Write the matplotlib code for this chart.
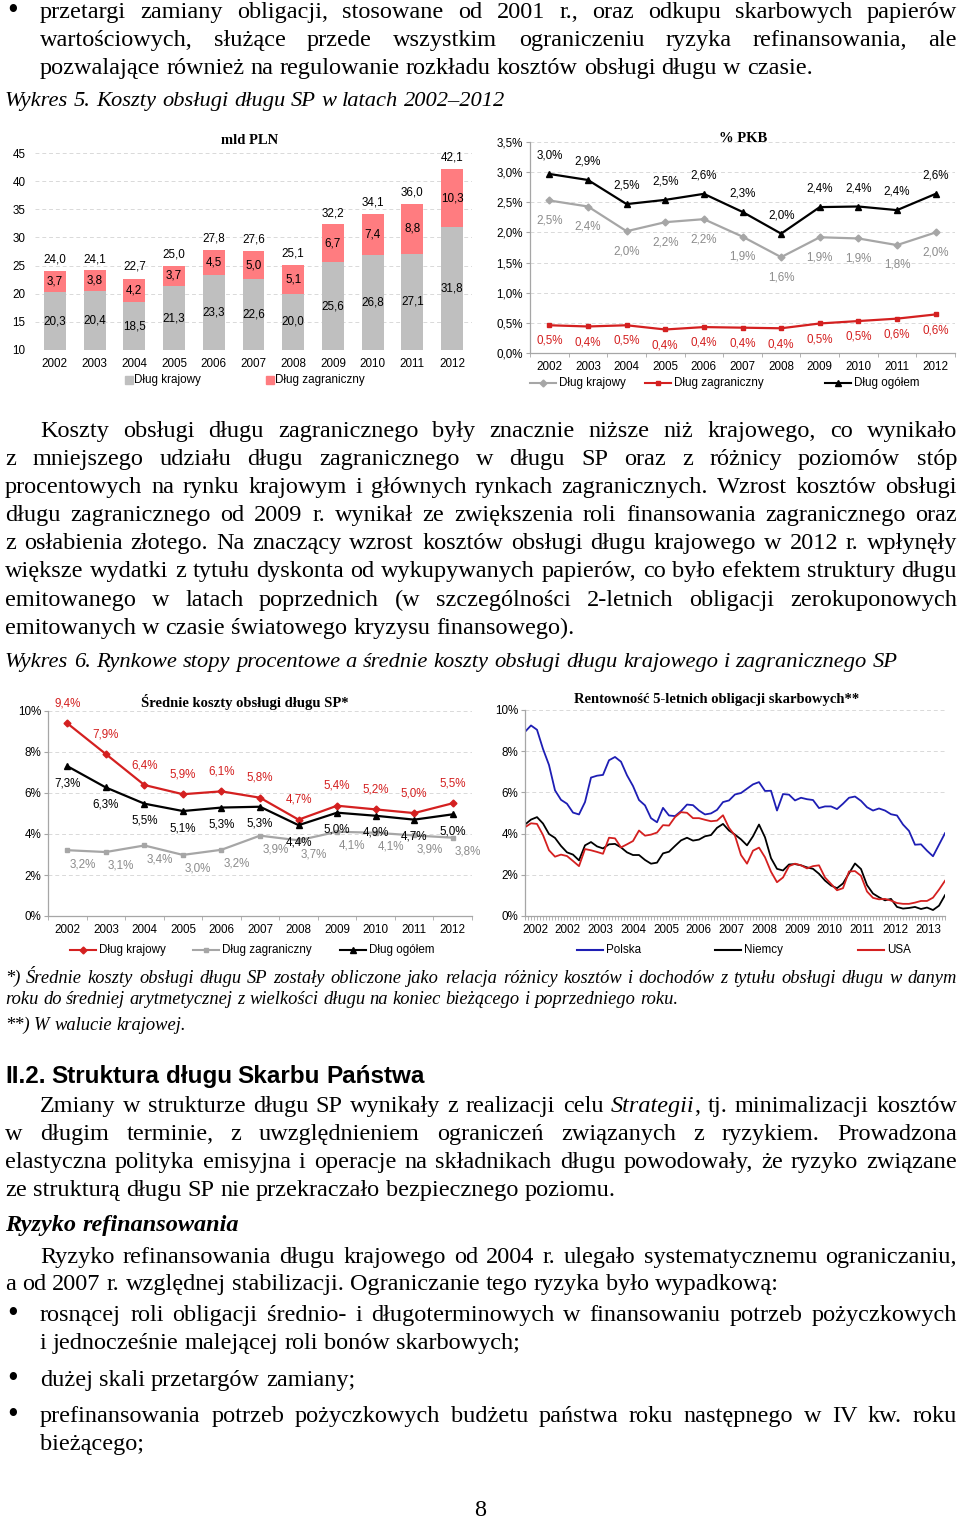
import numpy as np
import matplotlib
matplotlib.use('Agg')
import matplotlib.pyplot as plt
from matplotlib.lines import Line2D
from matplotlib.ticker import FuncFormatter

plt.rcParams['font.family'] = ['Liberation Sans', 'DejaVu Sans']
SERIF = ['Liberation Serif', 'DejaVu Serif']
SANS = ['Liberation Sans', 'DejaVu Sans']

W, H = 960, 1520
fig = plt.figure(figsize=(W / 100, H / 100), dpi=100)
renderer = fig.canvas.get_renderer()

# ---------------- data ----------------
years = ['2002', '2003', '2004', '2005', '2006', '2007', '2008', '2009', '2010', '2011', '2012']

# Wykres 5, mld PLN
cost_dom = [20.3, 20.4, 18.5, 21.3, 23.3, 22.6, 20.0, 25.6, 26.8, 27.1, 31.8]
cost_for = [3.7, 3.8, 4.2, 3.7, 4.5, 5.0, 5.1, 6.7, 7.4, 8.8, 10.3]
cost_tot = [24.0, 24.1, 22.7, 25.0, 27.8, 27.6, 25.1, 32.2, 34.1, 36.0, 42.1]

# Wykres 5, % PKB
gdp_dom = [2.53, 2.43, 2.02, 2.17, 2.22, 1.93, 1.59, 1.92, 1.90, 1.79, 2.00]
gdp_for = [0.46, 0.44, 0.46, 0.39, 0.43, 0.42, 0.41, 0.49, 0.53, 0.57, 0.64]
gdp_tot = [2.97, 2.87, 2.47, 2.54, 2.64, 2.34, 1.98, 2.42, 2.43, 2.37, 2.64]

# Wykres 6, srednie koszty obslugi (%)
avg_dom = [9.40, 7.90, 6.39, 5.94, 6.08, 5.77, 4.70, 5.38, 5.20, 5.02, 5.50]
avg_for = [3.21, 3.12, 3.44, 2.98, 3.23, 3.92, 3.69, 4.11, 4.06, 3.93, 3.82]
avg_tot = [7.31, 6.27, 5.48, 5.12, 5.29, 5.33, 4.43, 5.04, 4.89, 4.70, 4.96]

# Wykres 6, rentownosc 5-letnich obligacji (%), odczyt co 2 miesiace
yield_labels = ['2002', '2002', '2003', '2004', '2005', '2006', '2007',
                '2008', '2009', '2010', '2011', '2012', '2013']
yield_pl = [8.94, 9.25, 9.04, 8.11, 7.33, 6.10, 5.64, 5.45, 5.02, 4.93,
            5.53, 6.72, 6.81, 6.85, 7.56, 7.72, 7.49, 6.83, 6.31, 5.63,
            5.37, 4.75, 4.55, 5.25, 4.88, 4.85, 5.09, 5.41, 5.38, 5.12,
            4.93, 4.98, 5.15, 5.53, 5.61, 5.90,
            5.97, 6.18, 6.39, 6.50, 6.07, 6.08, 5.12, 5.92, 5.89, 5.61,
            5.74, 5.67, 5.63, 5.24, 5.32, 5.32, 5.19, 5.45, 5.74, 5.80,
            5.59, 5.28, 5.12, 5.22, 5.12, 4.94, 4.88, 4.44, 4.13, 3.46,
            3.48, 3.17, 2.90, 3.46, 4.02]
yield_de = [4.44, 4.68, 4.80, 4.49, 3.98, 3.79, 3.40, 3.09, 2.98, 2.70,
            3.43, 3.59, 3.38, 3.28, 3.48, 3.50, 3.33, 3.09, 2.96, 2.96,
            2.72, 2.54, 2.59, 3.04, 3.12, 3.40, 3.67, 3.80, 3.66, 3.71,
            3.87, 3.93, 4.28, 4.47, 4.15, 3.95,
            3.72, 3.43, 3.87, 4.44, 3.82, 2.81, 2.29, 2.21, 2.50, 2.52,
            2.46, 2.36, 2.29, 2.05, 1.72, 1.48, 1.35, 1.58, 2.07, 2.55,
            2.28, 1.50, 1.09, 0.91, 0.76, 0.83, 0.44, 0.36, 0.39, 0.44,
            0.34, 0.41, 0.29, 0.50, 1.01]
yield_us = [4.31, 4.50, 4.47, 3.93, 3.19, 2.88, 2.98, 2.91, 2.67, 2.42,
            3.25, 3.19, 3.11, 3.02, 3.80, 3.77, 3.33, 3.48, 3.64, 4.15,
            3.90, 3.95, 4.05, 4.41, 4.39, 4.80, 5.04, 5.01, 4.75, 4.75,
            4.67, 4.60, 4.63, 4.89, 4.28, 3.90,
            2.96, 2.54, 3.17, 3.32, 2.85, 2.15, 1.64, 1.87, 2.42, 2.54,
            2.46, 2.31, 2.42, 2.46, 1.87, 1.56, 1.25, 1.35, 2.16, 2.18,
            1.95, 1.19, 0.88, 0.81, 0.83, 0.75, 0.63, 0.59, 0.59, 0.65,
            0.73, 0.73, 0.89, 1.28, 1.71]
months = np.arange(0, 2 * len(yield_pl), 2)

GRAY = '#BFBFBF'
SALMON = '#FF7C80'
RED = '#D42020'
LGRAY = '#A6A6A6'
BLUE = '#1E1EB4'
AXC = '#A6A6A6'

BODY = 17.5     # body text size
ITAL = 16.2     # italic captions


def fx(x):
    return x / W


def fy(y):
    return 1 - y / H


def px_axes(x0, y0, x1, y1):
    return fig.add_axes([fx(x0), fy(y1), (x1 - x0) / W, (y1 - y0) / H])


def comma(v, dec=1, pct=False):
    s = f"{v:.{dec}f}".replace('.', ',')
    return s + '%' if pct else s


# ---------------- page text ----------------
# '§' toggles italic inside a line
def parse(line, base_style):
    words, ital = [], False
    for w in line.split(' '):
        runs = []
        for i, p in enumerate(w.split('§')):
            if i > 0:
                ital = not ital
            if p:
                runs.append((p, 'italic' if ital else base_style))
        words.append(runs)
    return words


def text_line(y, line, x0=5, x1=957, justify=True, size=BODY, style='normal',
              weight='normal', family=SERIF):
    words = parse(line, style)
    while True:
        arts, widths = [], []
        for runs in words:
            wa = []
            for t, st in runs:
                a = fig.text(0, 0, t, fontsize=size, fontstyle=st, fontweight=weight,
                             family=family, va='baseline', ha='left')
                wa.append((a, a.get_window_extent(renderer).width))
            arts.append(wa)
            widths.append(sum(w for _, w in wa))
        space = 0.25 * size * 100 / 72
        if not justify or len(words) < 2:
            gap = space
            break
        gap = (x1 - x0 - sum(widths)) / (len(words) - 1)
        if gap > 0.6 * space:
            break
        for wa in arts:
            for a, _ in wa:
                a.remove()
        size -= 0.25
    x = x0
    for wa, w in zip(arts, widths):
        xx = x
        for a, ww in wa:
            a.set_position((fx(xx), fy(y + 6)))
            xx += ww
        x += w + gap


def bullet(y):
    fig.text(fx(7), fy(y + 7), '•', fontsize=22, family=SERIF, va='baseline', ha='left')


bullet(12)
text_line(12, 'przetargi zamiany obligacji, stosowane od 2001 r., oraz odkupu skarbowych papierów', x0=40)
text_line(40, 'wartościowych, służące przede wszystkim ograniczeniu ryzyka refinansowania, ale', x0=40)
text_line(68, 'pozwalające również na regulowanie rozkładu kosztów obsługi długu w czasie.', x0=40, justify=False)
text_line(100, 'Wykres 5. Koszty obsługi długu SP w latach 2002–2012', justify=False, style='italic', size=ITAL)

para1 = [
    ('Koszty obsługi długu zagranicznego były znacznie niższe niż krajowego, co wynikało', 40, True),
    ('z mniejszego udziału długu zagranicznego w długu SP oraz z różnicy poziomów stóp', 5, True),
    ('procentowych na rynku krajowym i głównych rynkach zagranicznych. Wzrost kosztów obsługi', 5, True),
    ('długu zagranicznego od 2009 r. wynikał ze zwiększenia roli finansowania zagranicznego oraz', 5, True),
    ('z osłabienia złotego. Na znaczący wzrost kosztów obsługi długu krajowego w 2012 r. wpłynęły', 5, True),
    ('większe wydatki z tytułu dyskonta od wykupywanych papierów, co było efektem struktury długu', 5, True),
    ('emitowanego w latach poprzednich (w szczególności 2-letnich obligacji zerokuponowych', 5, True),
    ('emitowanych w czasie światowego kryzysu finansowego).', 5, False),
]
for i, (ln, x0, j) in enumerate(para1):
    text_line(431 + 28.1 * i, ln, x0=x0, justify=j)
text_line(661, 'Wykres 6. Rynkowe stopy procentowe a średnie koszty obsługi długu krajowego i zagranicznego SP',
          justify=False, style='italic', size=ITAL)

text_line(977, '*) Średnie koszty obsługi długu SP zostały obliczone jako relacja różnicy kosztów i dochodów '
               'z tytułu obsługi długu w danym', size=13.3, style='italic')
text_line(998, 'roku do średniej arytmetycznej z wielkości długu na koniec bieżącego i poprzedniego roku.',
          size=13.3, style='italic', justify=False)
text_line(1024, '**) W walucie krajowej.', size=13.3, style='italic', justify=False)

text_line(1077, 'II.2. Struktura długu Skarbu Państwa', justify=False, size=17.5, weight='bold',
          family=SANS)
text_line(1106, 'Zmiany w strukturze długu SP wynikały z realizacji celu §Strategii§, tj. minimalizacji kosztów', x0=40)
text_line(1134, 'w długim terminie, z uwzględnieniem ograniczeń związanych z ryzykiem. Prowadzona')
text_line(1162, 'elastyczna polityka emisyjna i operacje na składnikach długu powodowały, że ryzyko związane')
text_line(1190, 'ze strukturą długu SP nie przekraczało bezpiecznego poziomu.', justify=False)
text_line(1225, 'Ryzyko refinansowania', justify=False, style='italic', weight='bold')
text_line(1257, 'Ryzyko refinansowania długu krajowego od 2004 r. ulegało systematycznemu ograniczaniu,', x0=40)
text_line(1284, 'a od 2007 r. względnej stabilizacji. Ograniczanie tego ryzyka było wypadkową:', justify=False)
bullet(1315)
text_line(1315, 'rosnącej roli obligacji średnio- i długoterminowych w finansowaniu potrzeb pożyczkowych', x0=40)
text_line(1343, 'i jednocześnie malejącej roli bonów skarbowych;', x0=40, justify=False)
bullet(1380)
text_line(1380, 'dużej skali przetargów zamiany;', x0=40, justify=False)
bullet(1416)
text_line(1416, 'prefinansowania potrzeb pożyczkowych budżetu państwa roku następnego w IV kw. roku', x0=40)
text_line(1444, 'bieżącego;', x0=40, justify=False)
fig.text(fx(480), fy(1516), '8', fontsize=BODY, family=SERIF, ha='center', va='baseline')


# ---------------- chart helpers ----------------
TICK = 8.4


def legend_item(x0, y, color, label, marker=None, square=False, ms=4.5):
    if square:
        fig.add_artist(Line2D([fx(x0 + 4)], [fy(y)], transform=fig.transFigure, marker='s',
                              ms=6, color=color, ls='none'))
        tx = x0 + 9
    else:
        fig.add_artist(Line2D([fx(x0), fx(x0 + 26)], [fy(y), fy(y)], transform=fig.transFigure,
                              color=color, lw=1.5))
        if marker:
            fig.add_artist(Line2D([fx(x0 + 13)], [fy(y)], transform=fig.transFigure, marker=marker,
                                  ms=ms, color=color, ls='none'))
        tx = x0 + 29
    fig.text(fx(tx), fy(y), label, fontsize=TICK, va='center', ha='left')


def base_style(ax, ylim, yticks, fmt):
    ax.set_ylim(*ylim)
    ax.set_yticks(yticks)
    ax.yaxis.set_major_formatter(FuncFormatter(fmt))
    ax.grid(axis='y', ls=(0, (4, 3)), color='#D9D9D9', lw=0.7)
    ax.set_axisbelow(True)
    for s in ['top', 'right']:
        ax.spines[s].set_visible(False)
    for s in ['left', 'bottom']:
        ax.spines[s].set_color(AXC)
        ax.spines[s].set_linewidth(0.9)
    ax.tick_params(labelsize=TICK, color=AXC, width=0.8)
    ax.tick_params(axis='y', length=3, pad=2)


def category_x(ax):
    ax.set_xlim(-0.5, len(years) - 0.5)
    ax.set_xticks(range(len(years)))
    ax.set_xticklabels(years)
    ax.set_xticks(np.arange(-0.5, len(years), 1), minor=True)
    ax.tick_params(axis='x', which='major', length=0, pad=6)
    ax.tick_params(axis='x', which='minor', length=3, color=AXC)


# ---------------- Wykres 5: mld PLN ----------------
ax1 = px_axes(35, 153, 472, 350)
x = np.arange(len(years))
ax1.bar(x, cost_dom, width=0.55, color=GRAY)
ax1.bar(x, cost_for, bottom=cost_dom, width=0.55, color=SALMON)
ax1.set_ylim(10, 45)
ax1.set_yticks(range(10, 46, 5))
ax1.set_xlim(-0.5, 10.5)
ax1.set_xticks(x)
ax1.set_xticklabels(years)
ax1.grid(axis='y', ls=(0, (4, 3)), color='#D9D9D9', lw=0.7)
ax1.set_axisbelow(True)
for s in ax1.spines.values():
    s.set_visible(False)
ax1.tick_params(labelsize=TICK, length=0)
ax1.tick_params(axis='y', pad=7)
ax1.tick_params(axis='x', pad=6)
for i in range(len(years)):
    ax1.text(i, (10 + cost_dom[i]) / 2, comma(cost_dom[i]), ha='center', va='center', fontsize=TICK)
    ax1.text(i, cost_dom[i] + cost_for[i] / 2, comma(cost_for[i]), ha='center', va='center', fontsize=TICK)
    ax1.annotate(comma(cost_tot[i]), (i, cost_tot[i]), xytext=(0, 4), textcoords='offset points',
                 ha='center', va='bottom', fontsize=TICK)
fig.text(fx(250), fy(140), 'mld PLN', fontsize=10.5, fontweight='bold', family=SERIF, ha='center', va='center')
legend_item(125, 380, GRAY, 'Dług krajowy', square=True)
legend_item(266, 380, SALMON, 'Dług zagraniczny', square=True)

# ---------------- Wykres 5: % PKB ----------------
ax2 = px_axes(530, 142, 955, 353)
base_style(ax2, (0, 3.5), np.arange(0, 3.51, 0.5), lambda v, _: comma(v, 1, True))
category_x(ax2)
ax2.plot(x, gdp_dom, color=LGRAY, lw=1.6, marker='D', ms=3.5)
ax2.plot(x, gdp_for, color=RED, lw=1.6, marker='s', ms=3.5)
ax2.plot(x, gdp_tot, color='black', lw=1.6, marker='^', ms=4.5)
for i in range(len(years)):
    ax2.annotate(comma(gdp_tot[i], 1, True), (i, gdp_tot[i]), xytext=(0, 9), textcoords='offset points',
                 ha='center', va='bottom', fontsize=TICK)
    ax2.annotate(comma(gdp_dom[i], 1, True), (i, gdp_dom[i]), xytext=(0, -10), textcoords='offset points',
                 ha='center', va='top', fontsize=TICK, color='#8C8C8C')
    ax2.annotate(comma(gdp_for[i], 1, True), (i, gdp_for[i]), xytext=(0, -7), textcoords='offset points',
                 ha='center', va='top', fontsize=TICK, color=RED)
fig.text(fx(743), fy(139), '% PKB', fontsize=10.5, fontweight='bold', family=SERIF, ha='center', va='center')
legend_item(530, 383, LGRAY, 'Dług krajowy', marker='D', ms=3.5)
legend_item(645, 383, RED, 'Dług zagraniczny', marker='s', ms=3.5)
legend_item(825, 383, 'black', 'Dług ogółem', marker='^', ms=4.5)

# ---------------- Wykres 6: srednie koszty ----------------
ax3 = px_axes(48, 711, 472, 916)
base_style(ax3, (0, 10), range(0, 11, 2), lambda v, _: f"{v:.0f}%")
category_x(ax3)
ax3.plot(x, avg_dom, color=RED, lw=1.6, marker='D', ms=3.5)
ax3.plot(x, avg_for, color=LGRAY, lw=1.6, marker='s', ms=3.5)
ax3.plot(x, avg_tot, color='black', lw=1.6, marker='^', ms=4.5)
for i in range(len(years)):
    ax3.annotate(comma(avg_dom[i], 1, True), (i, avg_dom[i]), xytext=(0, 10), textcoords='offset points',
                 ha='center', va='bottom', fontsize=TICK, color=RED)
    ax3.annotate(comma(avg_tot[i], 1, True), (i, avg_tot[i]), xytext=(0, -8), textcoords='offset points',
                 ha='center', va='top', fontsize=TICK)
    ax3.annotate(comma(avg_for[i], 1, True), (i, avg_for[i]), xytext=(11, -10), textcoords='offset points',
                 ha='center', va='center', fontsize=TICK, color='#8C8C8C')
fig.text(fx(245), fy(702), 'Średnie koszty obsługi długu SP*', fontsize=10.5, fontweight='bold',
         family=SERIF, ha='center', va='center')
legend_item(70, 950, RED, 'Dług krajowy', marker='D', ms=3.5)
legend_item(193, 950, LGRAY, 'Dług zagraniczny', marker='s', ms=3.5)
legend_item(340, 950, 'black', 'Dług ogółem', marker='^', ms=4.5)

# ---------------- Wykres 6: rentownosc ----------------
ax4 = px_axes(525, 710, 945, 916)
base_style(ax4, (0, 10), range(0, 11, 2), lambda v, _: f"{v:.0f}%")
ax4.plot(months, yield_pl, color=BLUE, lw=1.3)
ax4.plot(months, yield_de, color='black', lw=1.3)
ax4.plot(months, yield_us, color=RED, lw=1.3)
ax4.set_xlim(0, months[-1])
ax4.set_xticks(np.linspace(3.3, 134.3, len(yield_labels)))
ax4.set_xticklabels(yield_labels)
ax4.set_xticks(np.arange(0, months[-1] + 1, 1), minor=True)
ax4.tick_params(axis='x', which='major', length=0, pad=6)
ax4.tick_params(axis='x', which='minor', length=3, color=AXC, width=0.6)
fig.text(fx(717), fy(700), 'Rentowność 5-letnich obligacji skarbowych**', fontsize=10.5, fontweight='bold',
         family=SERIF, ha='center', va='center')
legend_item(577, 950, BLUE, 'Polska')
legend_item(715, 950, 'black', 'Niemcy')
legend_item(858, 950, RED, 'USA')

fig.savefig('out.png', dpi=100)
